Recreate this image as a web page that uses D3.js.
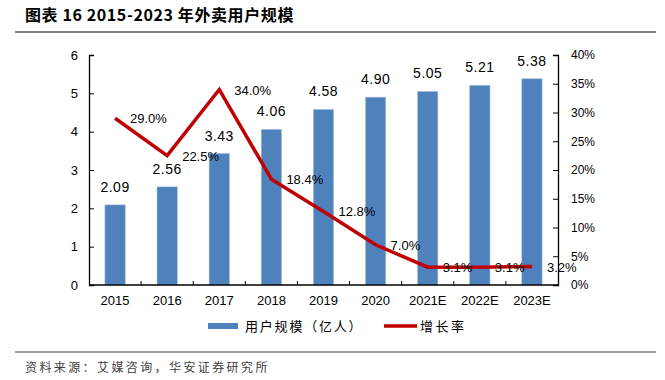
<!DOCTYPE html>
<html><head><meta charset="utf-8">
<script src="https://cdn.jsdelivr.net/npm/d3@7"></script>
<style>
body{margin:0;background:#fff;}
svg{display:block;}
text{font-family:"Liberation Sans",Arial,sans-serif;fill:#000;}
.cjk{font-family:"Noto Sans CJK SC",sans-serif;}
</style></head>
<body><svg id="c" width="665" height="380"></svg>
<script>
const categories = ["2015","2016","2017","2018","2019","2020","2021E","2022E","2023E"];
const users = [2.09,2.56,3.43,4.06,4.58,4.90,5.05,5.21,5.38];
const growth = [29.0,22.5,34.0,18.4,12.8,7.0,3.1,3.1,3.2];
const leftTicks = [0,1,2,3,4,5,6];
const rightTicks = [0,5,10,15,20,25,30,35,40];
const title = "图表 16 2015-2023 年外卖用户规模";
const source = "资料来源：艾媒咨询，华安证券研究所";
const legendLabels = ["用户规模（亿人）","增长率"];

const svg = d3.select("#c");
const L = 89, R = 558, T = 55, B = 285;
const x = d3.scaleBand().domain(categories).range([L, R]).paddingInner(0.61).paddingOuter(0.305);
const y = d3.scaleLinear().domain([0, 6]).range([B, T]);
const y2 = d3.scaleLinear().domain([0, 40]).range([B, T]);
const cx = c => x(c) + x.bandwidth() / 2;

// title
svg.append("text").attr("class","cjk").attr("x", 25).attr("y", 21)
  .attr("font-size", 16).attr("font-weight", "bold").attr("letter-spacing", 0.6).text(title);
svg.append("line").attr("x1", 15).attr("x2", 656).attr("y1", 32).attr("y2", 32)
  .attr("stroke", "#7f7f7f").attr("stroke-width", 2);

// bars
svg.selectAll("rect.bar").data(users).join("rect").attr("class","bar")
  .attr("x", (d,i) => x(categories[i])).attr("width", x.bandwidth())
  .attr("y", d => y(d)).attr("height", d => B - y(d))
  .attr("fill", "#4f81bd").attr("stroke", "#a9c2e4").attr("stroke-width", 0.6);

svg.selectAll("text.bl").data(users).join("text").attr("class","bl")
  .attr("x", (d,i) => cx(categories[i])).attr("y", d => y(d) - 13)
  .attr("text-anchor", "middle").attr("font-size", 14).attr("letter-spacing", 0.5).text(d => d.toFixed(2));

// axes
const yAx = svg.append("g").attr("transform", `translate(${L},0)`)
  .call(d3.axisLeft(y).tickValues(leftTicks).tickSize(-5).tickPadding(11).tickFormat(d3.format("d")));
const y2Ax = svg.append("g").attr("transform", `translate(${R},0)`)
  .call(d3.axisRight(y2).tickValues(rightTicks).tickSize(-5).tickPadding(13).tickFormat(d => d + "%"));
const xAx = svg.append("g").attr("transform", `translate(0,${B})`)
  .call(d3.axisBottom(x).tickSize(0).tickPadding(11));
[yAx, y2Ax, xAx].forEach(g => {
  g.select(".domain").attr("stroke", "#000").attr("stroke-width", 1.3);
  g.selectAll(".tick line").attr("stroke", "#000");
  g.selectAll(".tick text").attr("font-family", "Liberation Sans, Arial, sans-serif").attr("fill", "#000");
});
yAx.selectAll(".tick text").attr("font-size", 13);
y2Ax.selectAll(".tick text").attr("font-size", 12);
xAx.selectAll(".tick text").attr("font-size", 13);
xAx.select(".domain").attr("d", `M${L},0H${R}`);
// x-axis inner ticks between categories
svg.selectAll("line.xt").data(categories.slice(1)).join("line").attr("class","xt")
  .attr("x1", c => x(c) - x.step() * x.paddingInner() / 2)
  .attr("x2", c => x(c) - x.step() * x.paddingInner() / 2)
  .attr("y1", B).attr("y2", B - 4).attr("stroke", "#000");

// growth line
const line = d3.line().x((d,i) => cx(categories[i])).y(d => y2(d));
svg.append("path").datum(growth).attr("d", line).attr("fill", "none")
  .attr("stroke", "#c00000").attr("stroke-width", 3.5).attr("stroke-linejoin", "miter");
svg.selectAll("text.gl").data(growth).join("text").attr("class","gl")
  .attr("x", (d,i) => cx(categories[i]) + 15).attr("y", d => y2(d) + 5)
  .attr("font-size", 13).text(d => d.toFixed(1) + "%");

// legend
const lg = svg.append("g");
lg.append("rect").attr("x", 208).attr("y", 323).attr("width", 30).attr("height", 6).attr("fill", "#4f81bd");
lg.append("text").attr("class","cjk").attr("x", 245).attr("y", 331).attr("font-size", 13)
  .attr("letter-spacing", 1.8).text(legendLabels[0]);
lg.append("line").attr("x1", 384).attr("x2", 417).attr("y1", 326).attr("y2", 326)
  .attr("stroke", "#c00000").attr("stroke-width", 3.5);
lg.append("text").attr("class","cjk").attr("x", 420).attr("y", 331).attr("font-size", 13)
  .attr("letter-spacing", 2.5).text(legendLabels[1]);

// source
svg.append("line").attr("x1", 15).attr("x2", 656).attr("y1", 352).attr("y2", 352)
  .attr("stroke", "#404040").attr("stroke-width", 1.2);
svg.append("text").attr("class","cjk").attr("x", 25).attr("y", 372).attr("font-size", 12)
  .attr("letter-spacing", 2.4).style("fill", "#404040").text(source);
</script></body></html>
